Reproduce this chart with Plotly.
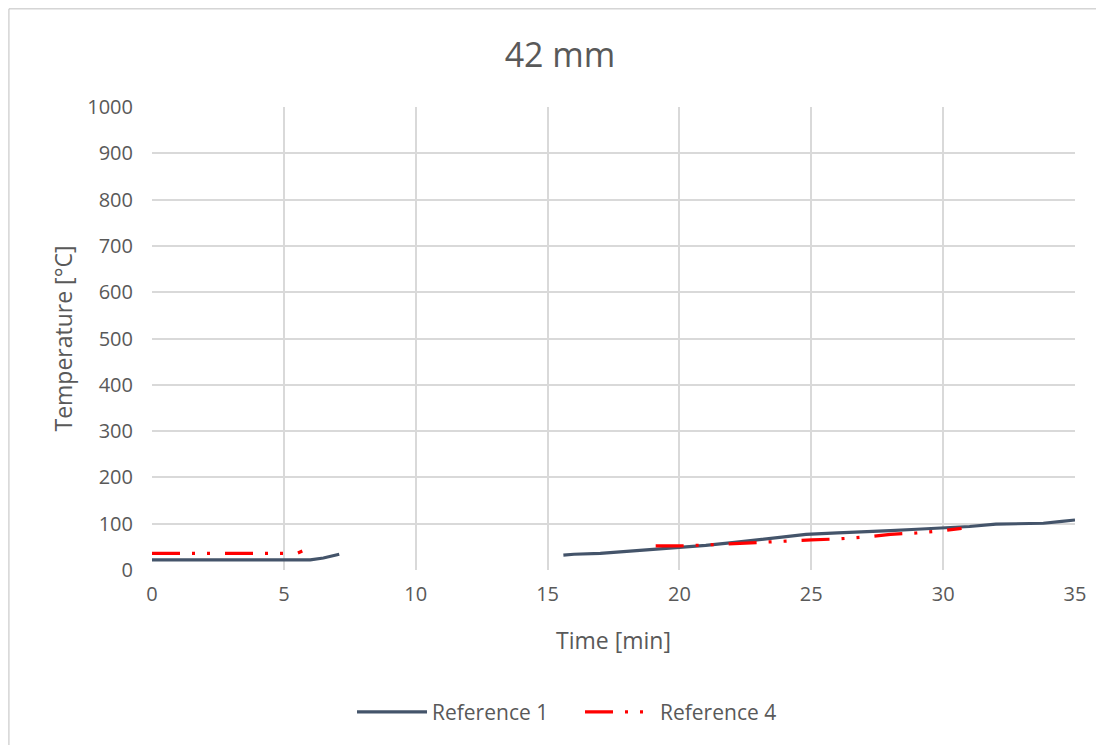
import plotly.graph_objects as go

# Reference 1 (two recorded segments, gap in between)
ref1_time = [0, 2, 4, 6.0, 6.5, 7.1, None,
             15.6, 16, 17, 18, 19, 20, 21, 22, 23, 24, 24.8, 26, 27, 28, 29,
             30, 31, 32, 33, 33.8, 34.5, 35]
ref1_temp = [22, 22, 22, 22, 26, 34, None,
             32, 34, 36, 40, 44, 49, 53, 59, 66, 73, 77, 80, 82, 85, 88,
             91, 94, 99, 100, 101, 105, 108]

# Reference 4
ref4_time = [0, 2, 4, 5.5, 5.7, None,
             19.1, 20, 21, 22, 23, 24, 25, 26, 27, 28, 29, 30, 30.7]
ref4_temp = [36, 36, 36, 36, 41, None,
             52, 52, 54, 57, 60, 63, 65, 67, 71, 77, 80, 85, 90]

x_ticks = [0, 5, 10, 15, 20, 25, 30, 35]
y_ticks = list(range(0, 1001, 100))

FONT = "Open Sans"
GREY = "#595959"

fig = go.Figure()
fig.add_trace(go.Scatter(
    x=ref1_time, y=ref1_temp, mode="lines", name="Reference 1",
    line=dict(color="#44546A", width=3.2),
))
fig.add_trace(go.Scatter(
    x=ref4_time, y=ref4_temp, mode="lines", name="Reference 4",
    line=dict(color="#FF0000", width=3.2, dash="28px,12px,3px,12px,3px,15px"),
))

# page body adds an 8px offset, so margins are shifted to compensate
fig.update_layout(
    width=1104, height=745,
    margin=dict(l=144, r=37, t=99, b=183),
    paper_bgcolor="white", plot_bgcolor="white",
    font=dict(family=FONT, color=GREY, size=20),
    title=dict(text="42 mm", x=0.5, xanchor="center", xref="container",
               y=1 - 47 / 745, yanchor="middle",
               font=dict(size=34, color=GREY)),
    legend=dict(orientation="h", x=0.2167, xanchor="left", y=-0.307,
                yanchor="middle", font=dict(size=21, color=GREY),
                itemwidth=70, entrywidth=143, entrywidthmode="pixels"),
    shapes=[dict(type="rect", xref="paper", yref="paper",
                 x0=-0.155, x1=1.2, y0=-0.5, y1=1.212,
                 line=dict(color="#BFBFBF", width=1), layer="below")],
)
fig.update_xaxes(
    range=[0, 35], tickvals=x_ticks, showgrid=True, gridcolor="#D9D9D9",
    gridwidth=1.5, zeroline=False, showline=False,
    ticks="outside", ticklen=6, tickcolor="rgba(0,0,0,0)",
    tickfont=dict(size=20, color=GREY),
    title=dict(text="Time [min]", font=dict(size=23, color=GREY), standoff=26),
)
fig.update_yaxes(
    range=[0, 1000], tickvals=y_ticks, showgrid=True, gridcolor="#D9D9D9",
    gridwidth=1.5, zeroline=False, showline=False,
    ticks="outside", ticklen=14, tickcolor="rgba(0,0,0,0)",
    tickfont=dict(size=20, color=GREY),
    title=dict(text="Temperature [°C]", font=dict(size=23, color=GREY), standoff=8),
)

fig.write_html("out.html")
